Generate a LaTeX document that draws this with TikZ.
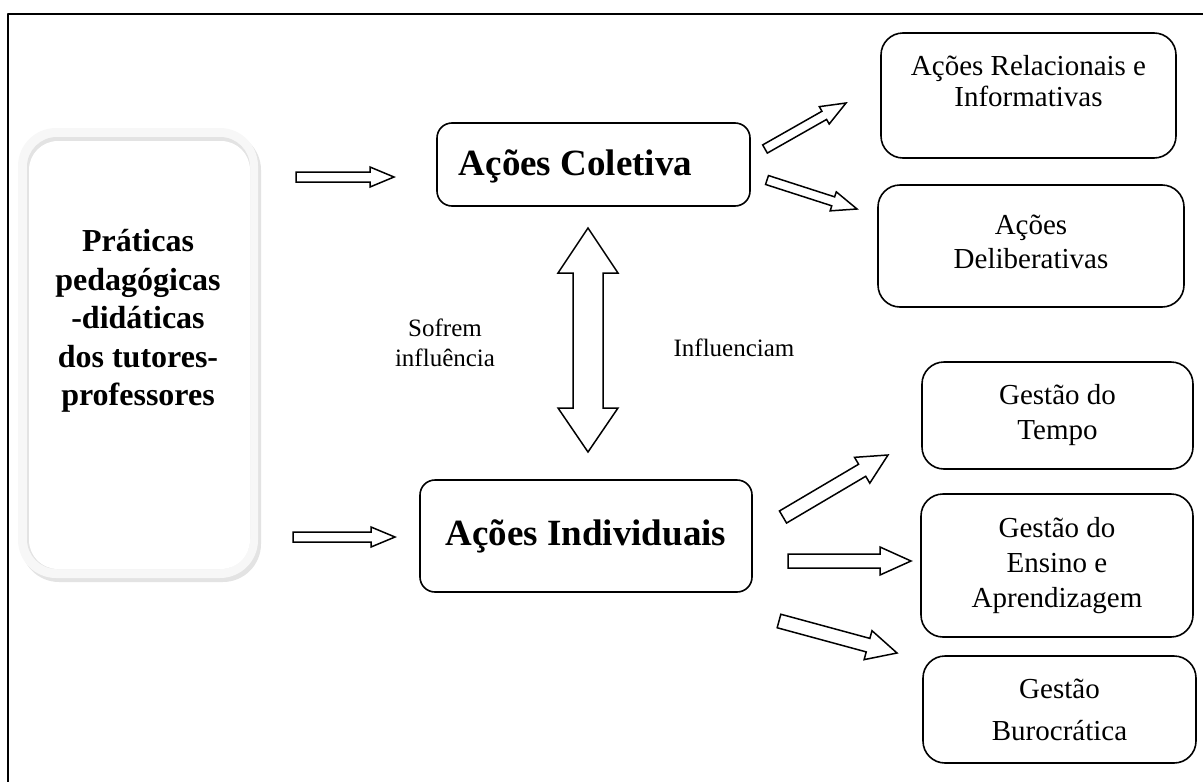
\documentclass[tikz,border=0pt]{standalone}
\usepackage{fontspec}
\setmainfont{Liberation Serif}
\usetikzlibrary{calc,positioning}

\begin{document}
\begin{tikzpicture}[x=1pt,y=-1pt,line join=round,
  caixa/.style={draw,line width=1.6pt,rounded corners=22pt,align=center,inner sep=0pt,font=\fontsize{29}{35}\selectfont},
  central/.style={draw,line width=1.6pt,rounded corners=15pt,align=center,inner sep=0pt,font=\bfseries\fontsize{37}{44}\selectfont},
  seta/.style={draw,line width=1.5pt,fill=white,line join=miter},
  rotulo/.style={align=center,font=\fontsize{25}{30}\selectfont}]
\useasboundingbox (0,0) rectangle (1203,782);
% moldura
\draw[line width=2pt] (8,782) -- (8,14) -- (1203,14);
% caixa da esquerda (com sombra)
\fill[gray!22,rounded corners=38pt] (21,132) rectangle (261,582);
\fill[gray!6,rounded corners=38pt] (18,128) rectangle (258,578);
\fill[gray!22,rounded corners=30pt] (27,137) rectangle (250,569);
\fill[white,rounded corners=29pt] (29,141) rectangle (250,569);
\node[font=\bfseries\fontsize{32}{38.5}\selectfont,align=center] (prat) at (138,321) {Práticas\\pedagógicas\\-didáticas\\dos tutores-\\professores};
% caixas centrais
\node[central,minimum width=313,minimum height=83] (col) at (593.5,164.5) {};
\node[font=\bfseries\fontsize{37}{44}\selectfont] (coltxt) at ([xshift=-18pt,yshift=-2pt]col.center) {Ações Coletiva};
\node[central,minimum width=332,minimum height=112] (ind) at (586,536) {Ações Individuais};
% caixas da direita
\node[caixa,minimum width=295,minimum height=125] (rel) at (1028.5,95.5) {};
\node[font=\fontsize{29}{31}\selectfont,align=center] (reltxt) at ([yshift=14pt]rel.center) {Ações Relacionais e\\Informativas};
\node[caixa,minimum width=306,minimum height=122] (del) at (1031,246) {};
\node[font=\fontsize{29}{34}\selectfont,align=center] (deltxt) at ([yshift=4pt]del.center) {Ações\\Deliberativas};
\node[caixa,minimum width=271,minimum height=107] (tem) at (1057.5,415.5) {Gestão do\\Tempo};
\node[caixa,minimum width=272,minimum height=143] (ens) at (1057,565.5) {Gestão do\\Ensino e\\Aprendizagem};
\node[caixa,minimum width=273,minimum height=107,font=\fontsize{29}{42}\selectfont] (bur) at (1059.5,709.5) {Gestão\\Burocrática};
% rotulos
\node[rotulo] (sof) at (445,343) {Sofrem\\influência};
\node[rotulo] (inf) at (734,348) {Influenciam};
% seta dupla
\draw[seta] (588,228) -- (618,273) -- (603,273) -- (603,408) -- (618,408) -- (588,452)
  -- (558,408) -- (573,408) -- (573,273) -- (558,273) -- cycle;
% setas de bloco
\coordinate (a1) at (296,177); \coordinate (b1) at (394,177);
\coordinate (a2) at (293,537); \coordinate (b2) at (395,537);
\coordinate (a3) at (765,149); \coordinate (b3) at (846,103);
\coordinate (a4) at (767,180); \coordinate (b4) at (857,209);
\coordinate (a5) at (783,517); \coordinate (b5) at (888,455);
\coordinate (a6) at (788,561); \coordinate (b6) at (911,561);
\coordinate (a7) at (779,621); \coordinate (b7) at (897,653);
\foreach \t/\h/\w/\W/\L in {a1/b1/5/10/24,a2/b2/5/10/24,a3/b3/4.7/10/25,a4/b4/4.7/10/25,a5/b5/7/15/30,a6/b6/7/14/31,a7/b7/7/15/30}{
  \coordinate (hb) at ($(\h)!\L pt!(\t)$);
  \draw[seta] ($(\t)!\w pt!90:(\h)$) -- ($(hb)!\w pt!90:(\h)$) -- ($(hb)!\W pt!90:(\h)$) -- (\h)
    -- ($(hb)!\W pt!-90:(\h)$) -- ($(hb)!\w pt!-90:(\h)$) -- ($(\t)!\w pt!-90:(\h)$) -- cycle;}
\end{tikzpicture}
\end{document}
